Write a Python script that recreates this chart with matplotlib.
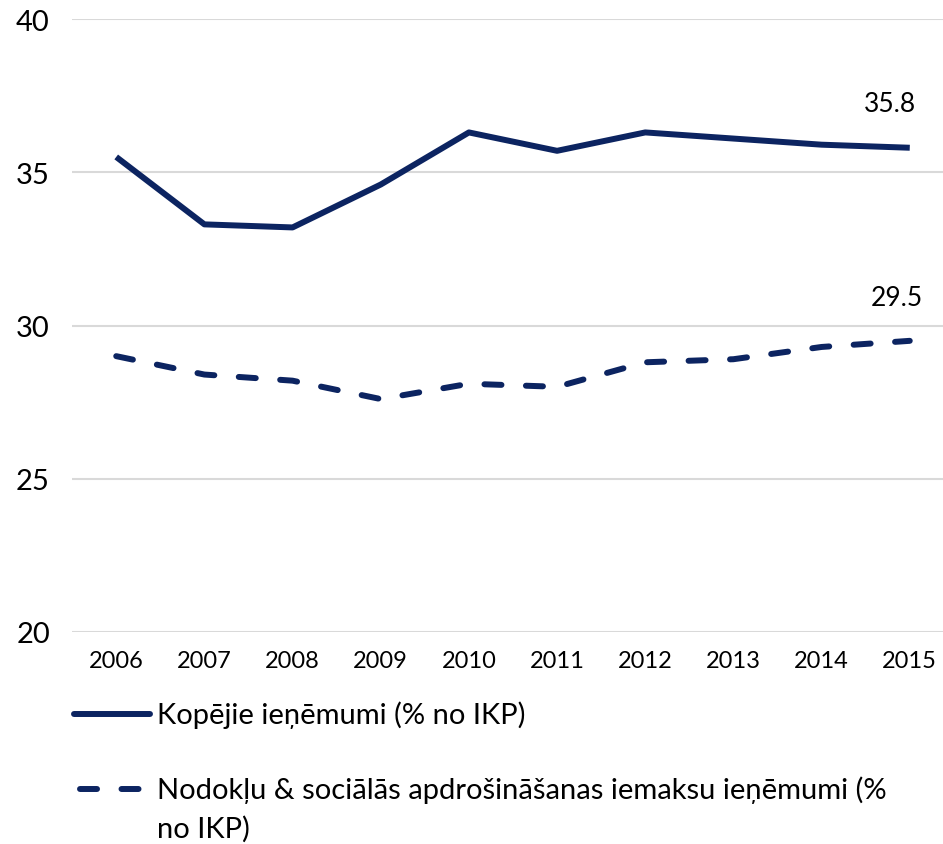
import matplotlib.pyplot as plt
from matplotlib.lines import Line2D

years = ['2006', '2007', '2008', '2009', '2010', '2011', '2012', '2013', '2014', '2015']
total_rev = [35.5, 33.3, 33.2, 34.6, 36.3, 35.7, 36.3, 36.1, 35.9, 35.8]
tax_rev = [29.0, 28.4, 28.2, 27.6, 28.1, 28.0, 28.8, 28.9, 29.3, 29.5]
label_total = 'Kopējie ieņēmumi (% no IKP)'
label_tax = 'Nodokļu & sociālās apdrošināšanas iemaksu ieņēmumi (%\nno IKP)'

navy = '#0c2461'
lw = 4.3
dash = (0, (2.85, 4.1))
plt.rcParams['font.family'] = ['Lato', 'DejaVu Sans']

fig = plt.figure(figsize=(9.43, 8.45), dpi=100)
ax = fig.add_axes([0.0765, 0.2509, 0.935, 0.7254])

x = range(len(years))
ax.plot(x, total_rev, color=navy, lw=lw, solid_capstyle='butt', solid_joinstyle='round')
ax.plot(x, tax_rev, color=navy, lw=lw, linestyle=dash, dash_capstyle='round')

ax.annotate('35.8', (9, total_rev[-1]), xytext=(-14, 32), textcoords='offset points',
            ha='center', va='center', fontsize=19)
ax.annotate('29.5', (9, tax_rev[-1]), xytext=(-9, 31), textcoords='offset points',
            ha='center', va='center', fontsize=19)

ax.set_xlim(-0.5, 9.5)
ax.set_ylim(20, 40)
ax.set_yticks([20, 25, 30, 35, 40])
ax.set_xticks(list(x))
ax.set_xticklabels(years)
ax.tick_params(axis='both', length=0)
ax.tick_params(axis='x', labelsize=17, pad=13)
ax.tick_params(axis='y', labelsize=21, pad=16)
ax.grid(axis='y', color='#d9d9d9', lw=1.5)
ax.set_axisbelow(True)
for s in ax.spines.values():
    s.set_visible(False)

# legend drawn by hand so the wrapped label lines up like the original
fig.add_artist(Line2D([0.079, 0.159], [0.154, 0.154], color=navy, lw=lw,
                      solid_capstyle='round', transform=fig.transFigure))
fig.text(0.166, 0.154, label_total, fontsize=21, va='center')
fig.add_artist(Line2D([0.085, 0.155], [0.065, 0.065], color=navy, lw=lw,
                      linestyle=dash, dash_capstyle='round',
                      transform=fig.transFigure))
fig.text(0.166, 0.065 + 0.016, label_tax, fontsize=21, va='top', linespacing=1.55)

fig.savefig('out.png', dpi=100)
